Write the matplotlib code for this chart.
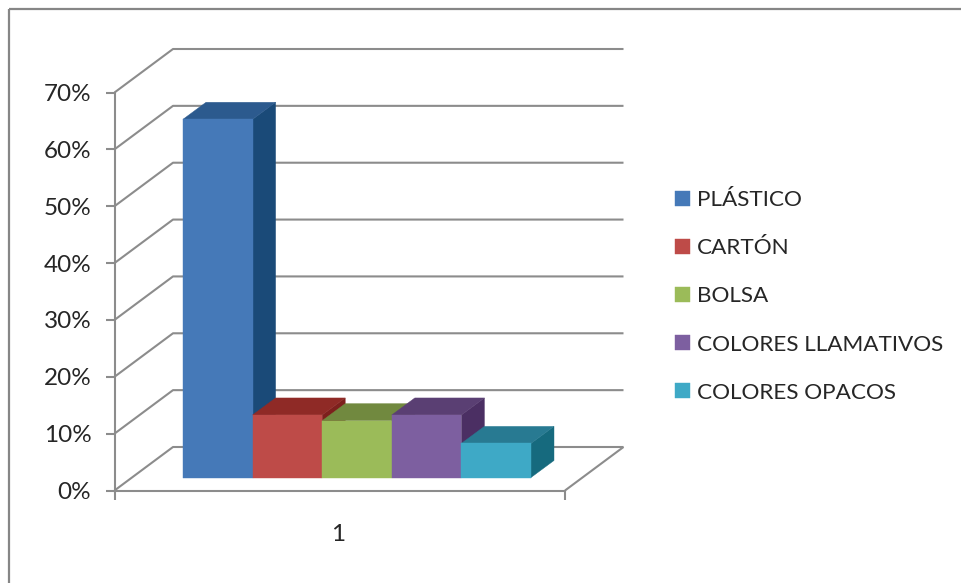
import matplotlib
matplotlib.use("Agg")
import matplotlib.pyplot as plt
from matplotlib.lines import Line2D
from matplotlib.patches import Patch, Polygon

# Data
series_names = ["PLÁSTICO", "CARTÓN", "BOLSA", "COLORES LLAMATIVOS", "COLORES OPACOS"]
series_values = [63, 11, 10, 11, 6]
category_labels = ["1"]
y_ticks = [0, 10, 20, 30, 40, 50, 60, 70]

# Face colours of each 3-D column
front_colors = ["#4579B8", "#BE4B48", "#9BBB59", "#7D5FA0", "#3EA9C6"]
top_colors = ["#2C5A8E", "#8F2A26", "#71893F", "#5A3F73", "#287A92"]
side_colors = ["#1A4A78", "#7D201D", "#5F7530", "#4B2F63", "#166A7E"]

W, H = 961, 583
GREY = "#8C8C8C"
TEXT = "#262626"
plt.rcParams["font.family"] = ["Lato", "DejaVu Sans"]

fig = plt.figure(figsize=(W / 100, H / 100), dpi=100, facecolor="white")


def box(left, top, right, bottom):
    return [left / W, 1 - bottom / H, (right - left) / W, (bottom - top) / H]


# Axes span the front plane of the chart; x is measured in column widths
AX_L, AX_R, AX_T, AX_B = 114.5, 565, 92.5, 490.5
COL_PX = 69.6
PCT_PX = (AX_B - AX_T) / 70
ax = fig.add_axes(box(AX_L, AX_T, AX_R, AX_B))
x0 = (183 - AX_L) / COL_PX  # left edge of the first column
x_max = (AX_R - AX_L) / COL_PX
ax.set_xlim(-x0, x_max - x0)
ax.set_ylim(0, 70)
ax.patch.set_visible(False)

# Depth of the floor and of the columns, in data units
FLOOR_DX, FLOOR_DY = 58.5 / COL_PX, 43.5 / PCT_PX
BAR_DX, BAR_DY = 23 / COL_PX, 17 / PCT_PX
BAR_BASE = (AX_B - 477.5) / PCT_PX

# Gridlines: a diagonal on the side wall, then a horizontal on the back wall
line_kw = dict(color=GREY, lw=1.5, clip_on=False, solid_capstyle="butt", zorder=1)
xl, xr = -x0, x_max - x0
for v in y_ticks:
    ax.add_line(Line2D([xl, xl + FLOOR_DX, xr + FLOOR_DX],
                       [v, v + FLOOR_DY, v + FLOOR_DY], **line_kw))
ax.add_line(Line2D([xr, xr + FLOOR_DX], [0, FLOOR_DY], **line_kw))

# Columns run left to right so each one overlaps its neighbour's side face
for i, v in enumerate(series_values):
    a, b = i, i + 1
    base, top = BAR_BASE, BAR_BASE + v
    faces = [
        (side_colors[i], [(b, base), (b + BAR_DX, base + BAR_DY), (b + BAR_DX, top + BAR_DY), (b, top)]),
        (top_colors[i], [(a, top), (b, top), (b + BAR_DX, top + BAR_DY), (a + BAR_DX, top + BAR_DY)]),
        (front_colors[i], [(a, base), (b, base), (b, top), (a, top)]),
    ]
    for color, pts in faces:
        ax.add_patch(Polygon(pts, closed=True, facecolor=color, edgecolor=color,
                             lw=0.3, clip_on=False, zorder=3 + i))

# Axis lines, ticks and labels
for side in ("top", "right"):
    ax.spines[side].set_visible(False)
for side in ("left", "bottom"):
    ax.spines[side].set_color(GREY)
    ax.spines[side].set_linewidth(1.5)
    ax.spines[side].set_zorder(2)
ax.set_yticks(y_ticks)
ax.set_yticklabels([f"{v}%" for v in y_ticks])
ax.tick_params(axis="y", length=6.5, width=1.5, color=GREY, labelsize=17.5,
               labelcolor=TEXT, pad=10.2)
ax.set_xticks([(338.5 - 183) / COL_PX])
ax.set_xticklabels(category_labels)
ax.tick_params(axis="x", length=0, labelsize=17.5, labelcolor=TEXT, pad=24)
ax.set_xticks([xl, xr], minor=True)
ax.tick_params(axis="x", which="minor", length=6.5, width=1.5, color=GREY)

# Legend
handles = [Patch(facecolor=c, edgecolor=c, lw=0.3) for c in front_colors]
FS = 16.2
fs_px = FS * 100 / 72
fig.legend(handles, series_names, loc="center left",
           bbox_to_anchor=(675 / W, 1 - 296.5 / H), frameon=False, fontsize=FS,
           labelcolor=TEXT, borderpad=0, borderaxespad=0,
           handlelength=15 / fs_px, handleheight=15 / fs_px,
           handletextpad=7 / fs_px, labelspacing=1.245)

# Outer frame: only the top and left edges fall inside the canvas
frame_kw = dict(color="#868686", lw=1.6, transform=fig.transFigure, solid_capstyle="butt")
fig.add_artist(Line2D([8.5 / W, 1], [1 - 8.5 / H, 1 - 8.5 / H], **frame_kw))
fig.add_artist(Line2D([8.5 / W, 8.5 / W], [1 - 8.5 / H, 0], **frame_kw))

fig.savefig("out.png", dpi=100)
